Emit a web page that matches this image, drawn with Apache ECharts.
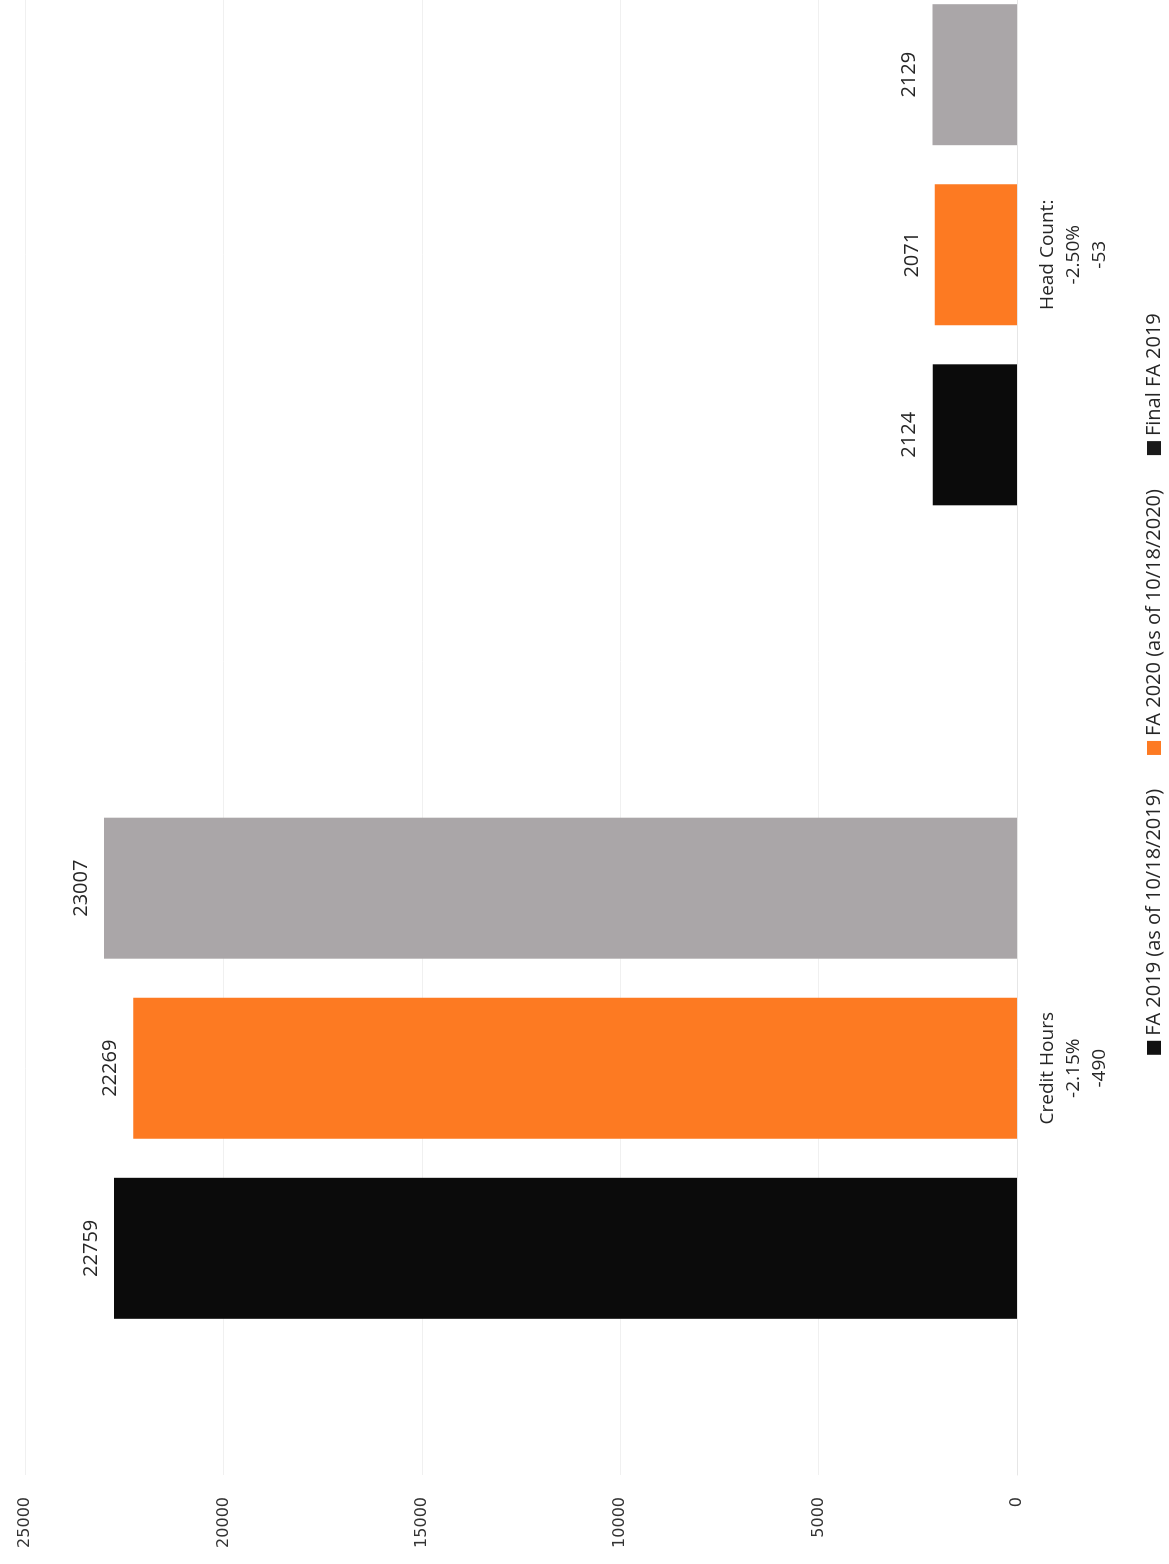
<!DOCTYPE html>
<html>
<head>
<meta charset="utf-8">
<script src="https://cdn.jsdelivr.net/npm/echarts@6/dist/echarts.min.js"></script>
<style>
html,body{margin:0;padding:0;width:1169px;height:1564px;overflow:hidden;background:#fff;}
#chart{position:absolute;left:0;top:0;width:1760px;height:1169px;transform-origin:0 0;transform:translate(0px,1564px) rotate(-90deg);}
</style>
</head>
<body>
<div id="chart"></div>
<script>
const categories = ['Credit Hours\n-2.15%\n-490', 'Head Count:\n-2.50%\n-53'];
const seriesNames = ['FA 2019 (as of 10/18/2019)', 'FA 2020 (as of 10/18/2020)', 'Final FA 2019'];
const fa2019 = [22759, 2124];
const fa2020 = [22269, 2071];
const finalFa2019 = [23007, 2129];
const valueTicks = [0, 5000, 10000, 15000, 20000, 25000];

const colors = ['#0b0b0b', '#fd7a22', '#aaa6a8'];
const legendIconColors = ['#111111', '#fd7a22', '#1a1a1a'];
const txtFont = '"Open Sans", Lato, sans-serif';

const chart = echarts.init(document.getElementById('chart'));
const dataSets = [fa2019, fa2020, finalFa2019];
chart.setOption({
  animation: false,
  backgroundColor: '#ffffff',
  grid: {left: 89, right: 44, top: 25, bottom: 152, containLabel: false},
  legend: {
    left: 'center', top: 1139,
    itemWidth: 14, itemHeight: 14, itemGap: 34,
    icon: 'rect',
    textStyle: {fontFamily: txtFont, fontSize: 20, color: '#262626'},
    data: seriesNames.map((n, i) => ({name: n, itemStyle: {color: legendIconColors[i]}}))
  },
  xAxis: {
    type: 'category',
    data: categories,
    axisLine: {show: true, lineStyle: {color: '#e6e6e6', width: 1}},
    axisTick: {show: false},
    axisLabel: {margin: 18, fontFamily: txtFont, fontSize: 19, color: '#262626', lineHeight: 26}
  },
  yAxis: {
    type: 'value',
    min: valueTicks[0], max: valueTicks[valueTicks.length - 1], interval: 5000,
    axisLine: {show: false},
    axisTick: {show: false},
    splitLine: {show: true, lineStyle: {color: '#f0f0f0', width: 1}},
    axisLabel: {margin: 22, fontFamily: '"DejaVu Sans", sans-serif', fontSize: 16, color: '#333333',
      formatter: v => String(v)}
  },
  series: seriesNames.map((n, i) => ({
    name: n,
    type: 'bar',
    data: dataSets[i],
    barWidth: 141,
    barGap: '27.7%',
    itemStyle: {color: colors[i]},
    label: {show: true, position: 'top', distance: 13, fontFamily: txtFont, fontSize: 20, color: '#262626'}
  }))
});
</script>
</body>
</html>
